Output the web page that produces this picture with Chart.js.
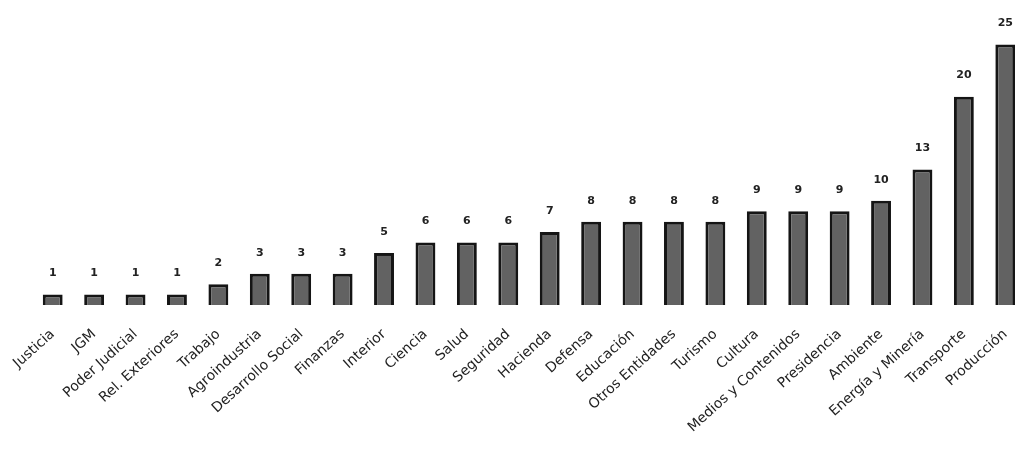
<!DOCTYPE html>
<html>
<head>
<meta charset="utf-8">
<script src="https://cdn.jsdelivr.net/npm/chart.js@4"></script>
<style>
  html, body { margin: 0; padding: 0; background: #fff; overflow: hidden; }
  #wrap { width: 1030px; height: 454px; }
</style>
</head>
<body>
<div id="wrap"><canvas id="chartOrg" width="1030" height="454"></canvas></div>
<script>
// organismos y cantidad
const organismos = [
  "Justicia", "JGM", "Poder Judicial", "Rel. Exteriores", "Trabajo",
  "Agroindustria", "Desarrollo Social", "Finanzas", "Interior", "Ciencia",
  "Salud", "Seguridad", "Hacienda", "Defensa", "Educación",
  "Otros Entidades", "Turismo", "Cultura", "Medios y Contenidos", "Presidencia",
  "Ambiente", "Energía y Minería", "Transporte", "Producción"
];
const cantidad = [1, 1, 1, 1, 2, 3, 3, 3, 5, 6, 6, 6, 7, 8, 8, 8, 8, 9, 9, 9, 10, 13, 20, 25];

// etiquetas de valor arriba de cada barra
const valueLabels = {
  id: "valueLabels",
  afterDatasetsDraw(chart) {
    const ctx = chart.ctx;
    const meta = chart.getDatasetMeta(0);
    ctx.save();
    ctx.fillStyle = "#222";
    ctx.font = "bold 11px 'DejaVu Sans'";
    ctx.textAlign = "center";
    ctx.textBaseline = "middle";
    meta.data.forEach((bar, i) => {
      ctx.fillText(String(cantidad[i]), bar.x, bar.y - 21);
    });
    ctx.restore();
  }
};

new Chart(document.getElementById("chartOrg"), {
  type: "bar",
  data: {
    labels: organismos,
    datasets: [{
      data: cantidad,
      backgroundColor: "#626262",
      borderColor: "#151515",
      borderWidth: 3,
      categoryPercentage: 1,
      barPercentage: 0.48
    }]
  },
  options: {
    responsive: false,
    animation: false,
    layout: { padding: { left: 32, right: 4, top: 6, bottom: 0 } },
    plugins: {
      legend: { display: false },
      tooltip: { enabled: false }
    },
    scales: {
      x: {
        grid: { display: false },
        border: { display: false },
        afterFit: (scale) => { scale.height = 149; },
        ticks: {
          autoSkip: false,
          minRotation: 42,
          maxRotation: 42,
          padding: 13,
          color: "#222",
          font: { family: "'DejaVu Sans'", size: 14 }
        }
      },
      y: {
        display: false,
        min: 0,
        max: 28.7
      }
    }
  },
  plugins: [valueLabels]
});
</script>
</body>
</html>
